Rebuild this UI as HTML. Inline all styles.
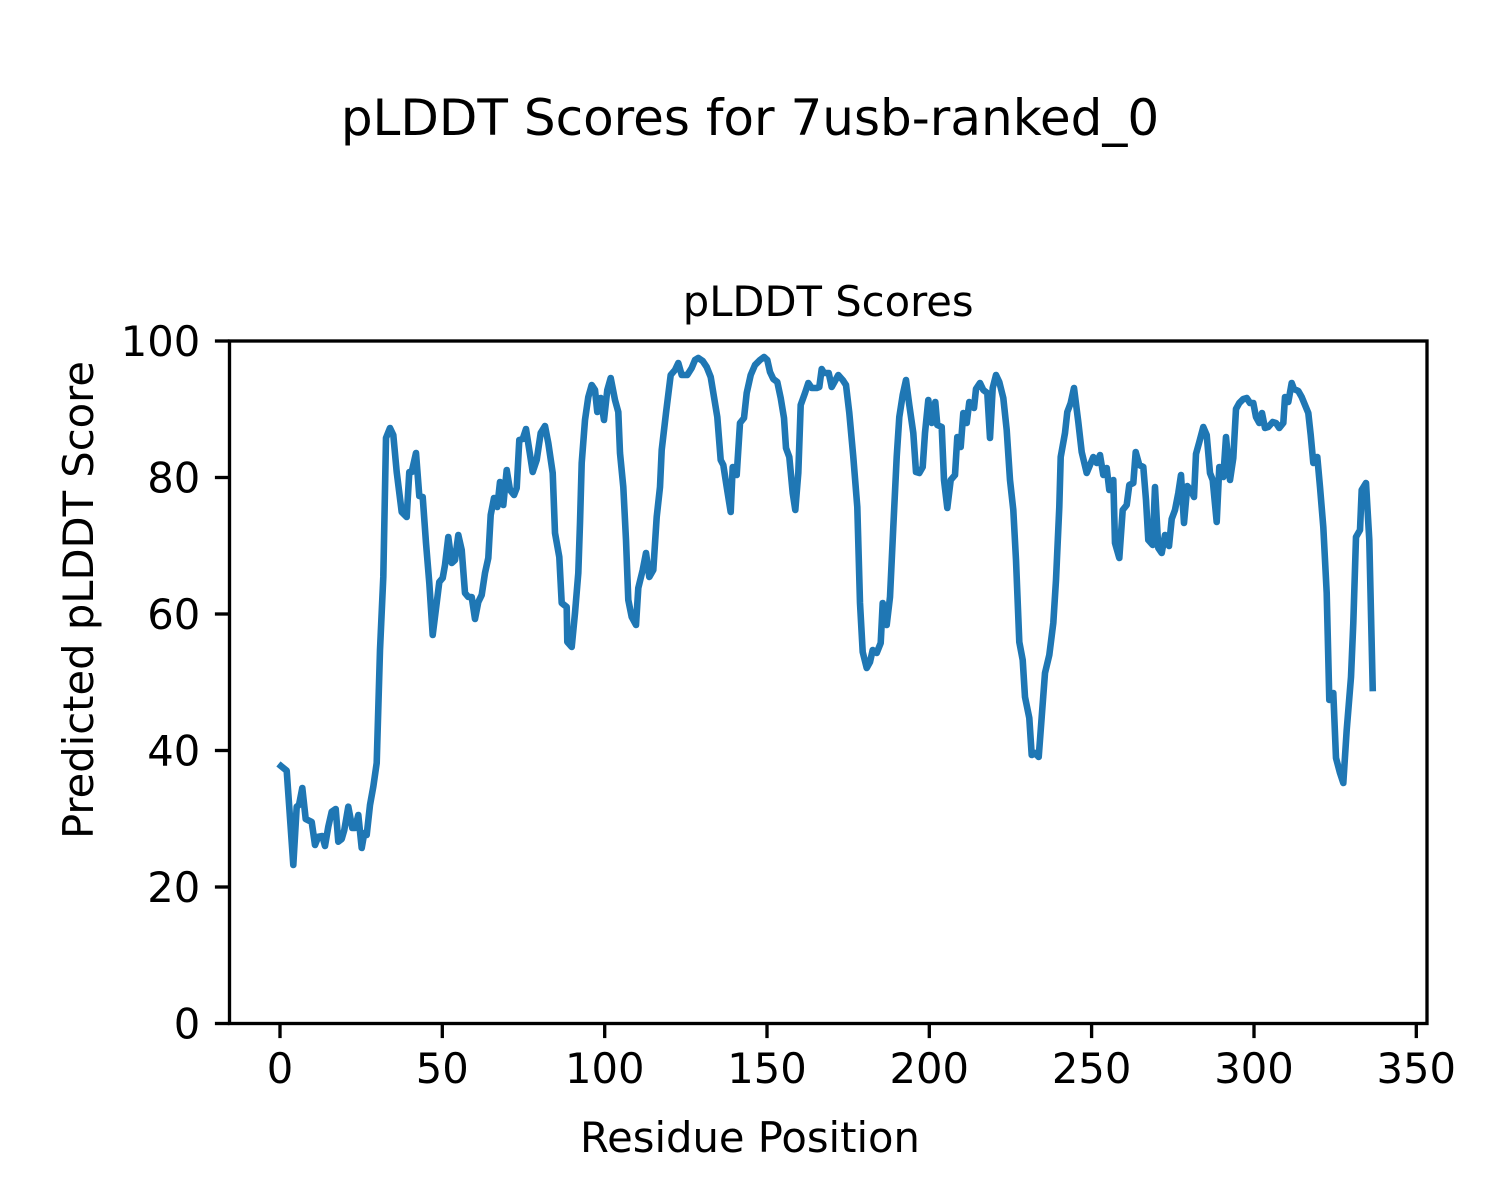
<!DOCTYPE html>
<html>
<head>
<meta charset="utf-8">
<style>
html,body{margin:0;padding:0;background:#ffffff;}
svg{display:block;}
text{font-family:"DejaVu Sans","Liberation Sans",sans-serif;fill:#000;}
</style>
</head>
<body>
<svg width="1500" height="1200" viewBox="0 0 1500 1200" xmlns="http://www.w3.org/2000/svg">
<rect x="0" y="0" width="1500" height="1200" fill="#ffffff"/>

<!-- suptitle -->
<text x="750" y="135" font-size="50" text-anchor="middle">pLDDT Scores for 7usb-ranked_0</text>
<!-- axes title -->
<text x="828.2" y="316" font-size="41.67" text-anchor="middle">pLDDT Scores</text>

<!-- data line -->
<polyline fill="none" stroke="#1f77b4" stroke-width="6.6" stroke-linejoin="round" stroke-linecap="square"
points="281,766 286.7,770.7 293.3,865 296.7,806.7 299,805 302.3,788 305.7,819 311.7,822 315,845 318.3,836.7 322.3,836 325,846 328.3,826.7 331.7,811.7 335.7,809 338.3,841.7 341.7,839 344.3,830 348.3,806.7 352.3,828 355,828 358.3,815 361.7,848 364.3,833 366.7,835 370,805 373.3,786.7 376.7,763
380,650 383.3,577 386,438 390,428 393.3,435 396.7,472 401.7,512 406.7,517 409.3,472 411.7,472 416,453 419.3,496 422.7,497 426,543 429.3,583 432.7,635 436.7,603 439.3,582 442.7,578 445,565 448.3,537 451.7,563 455,560 458.3,535 461.7,550 465,593 468.3,597 471.7,597 475,619 478.3,602 481.7,595 485,573 488.3,558 490.7,515 494,498 497.3,507 500,482 503.3,505 506.7,470 510,490 514,495 516.7,488 519.3,440 522.7,439 526,429 529.3,450 532.7,472 536.7,460 540.7,433 545,426 548.3,443 552.7,473 555,533 559.3,557 561.7,603 566.7,607
567.3,642 571.7,647 575,613 578.3,573 580,523 581.7,463 585,420 588.3,397 591.7,385 595,390 597.3,412 600.7,398 604,420 607.3,390 610.7,378 615,400 618.3,412 620,453 623.3,487 626,540 628.3,600 631.7,617 636,625 638.3,588 642.7,570 646,553 649.3,577 653.3,570 656.7,517 660,487 661.7,450 666,413 670.7,375 675,370 678.3,363 681.7,375 687.3,375 691.7,368 695,360 698.3,358 702.7,361 706.7,367 710.7,377 714,397 717.3,417 720.7,460 723.3,465 726.7,487 730.7,512 732.7,467 736.7,475 740,423 744,418 746.7,393 750.7,375 755,365 760,360 764,357 767.3,360 770,372 773.3,379 777.3,382 780.7,398 784,418 786,448 789.3,457 792.7,493 795.3,510 798.3,473 800.7,405 805,393 808.3,383 811.7,388 816.7,388 819.3,387 821.7,369 824,373 828.7,373 831.7,387 838.3,375 842.7,380 846,385 849.3,413 853.3,457 857.3,507
860,603 862.7,652 866.7,668 870,662 872.7,650 876.7,653 880.7,643 882.7,603 886.7,625 890,597 893.3,527 896.7,457 899.3,417 902.7,395 906,380 909.3,405 913.3,433 916,472 919.3,473 922.7,467 925,433 928.3,400 931.7,423 935.3,402 937.3,425 941.7,427 944,480 947.3,508 950.7,480 955,475 957.3,437 960.7,447 963.3,413 966.7,423 969.3,402 974,408 976,389 980,383 983.3,390 987.3,393 990,438 992.7,388 996,375 999.3,382 1003.3,398 1006.7,430 1010,480 1013.3,510 1016,560 1019.3,642 1022.7,660 1025,697 1029.3,718 1031.7,755 1035,753 1038.7,757 1041.7,717 1045,673 1049.3,655 1053.3,623 1056,580 1059.3,507 1060.7,457 1065,433 1067.3,412 1070.7,403 1074,388 1078.3,422 1081.7,452 1086.7,473 1090,465 1093.3,457 1096.7,463 1100,455 1103.3,475 1106.7,468 1109.3,490 1113.3,480 1115,543 1119.3,558 1122.7,510 1126.7,505 1129.3,485 1133.3,483 1135.7,452 1139.3,465 1143.3,467 1146,500 1148.3,540
1152.7,545 1155,487 1158.3,548 1161.7,553 1165,535 1169,546 1171.7,519 1175,510 1178.3,493 1181,475 1184,523 1187.3,486 1190.7,490 1194,497 1196,454 1199.3,442 1203.3,427 1206.7,435 1210,473 1212.7,480 1216.7,522 1219.3,467 1223.3,477 1226,437 1230,480 1233.3,458 1236,409 1239.3,403 1243.3,399 1246.7,398 1250,403 1253.3,403 1256,417 1259.3,423 1262,413 1265,428 1268.3,427 1272.7,422 1276,423 1279.3,428 1283.3,423 1285,397 1288.3,402 1291.7,383 1294,389 1298.3,391 1301.7,397 1305,405 1308.3,413 1310.7,435 1313.3,463 1317.3,457 1320,487 1323.3,527 1326.7,593 1329.3,700 1333.3,693 1336,758 1340,773 1343.3,783 1346.7,730 1351,677 1353.3,623 1356,537 1360,530 1361.7,490 1366,483 1369.3,540 1372.7,688"/>

<!-- axes frame -->
<rect x="229.5" y="341" width="1197.5" height="682.5" fill="none" stroke="#000" stroke-width="3.33" stroke-linejoin="miter"/>

<!-- x ticks -->
<g stroke="#000" stroke-width="3.33">
<line x1="280" y1="1023.5" x2="280" y2="1038.1"/>
<line x1="442.3" y1="1023.5" x2="442.3" y2="1038.1"/>
<line x1="604.7" y1="1023.5" x2="604.7" y2="1038.1"/>
<line x1="767" y1="1023.5" x2="767" y2="1038.1"/>
<line x1="929.3" y1="1023.5" x2="929.3" y2="1038.1"/>
<line x1="1091.6" y1="1023.5" x2="1091.6" y2="1038.1"/>
<line x1="1254" y1="1023.5" x2="1254" y2="1038.1"/>
<line x1="1416.3" y1="1023.5" x2="1416.3" y2="1038.1"/>
</g>
<g font-size="41.67" text-anchor="middle">
<text x="280" y="1083">0</text>
<text x="442.3" y="1083">50</text>
<text x="604.7" y="1083">100</text>
<text x="767" y="1083">150</text>
<text x="929.3" y="1083">200</text>
<text x="1091.6" y="1083">250</text>
<text x="1254" y="1083">300</text>
<text x="1416.3" y="1083">350</text>
</g>

<!-- y ticks -->
<g stroke="#000" stroke-width="3.33">
<line x1="214.9" y1="1023.5" x2="229.5" y2="1023.5"/>
<line x1="214.9" y1="887" x2="229.5" y2="887"/>
<line x1="214.9" y1="750.5" x2="229.5" y2="750.5"/>
<line x1="214.9" y1="614" x2="229.5" y2="614"/>
<line x1="214.9" y1="477.5" x2="229.5" y2="477.5"/>
<line x1="214.9" y1="341" x2="229.5" y2="341"/>
</g>
<g font-size="41.67" text-anchor="end">
<text x="200.3" y="1038.7">0</text>
<text x="200.3" y="902.2">20</text>
<text x="200.3" y="765.7">40</text>
<text x="200.3" y="629.2">60</text>
<text x="200.3" y="492.7">80</text>
<text x="200.3" y="356.2">100</text>
</g>

<!-- axis labels -->
<text x="750" y="1152" font-size="41.67" text-anchor="middle">Residue Position</text>
<text x="0" y="0" font-size="41.67" text-anchor="middle" transform="translate(93,600) rotate(-90)">Predicted pLDDT Score</text>
</svg>
</body>
</html>
